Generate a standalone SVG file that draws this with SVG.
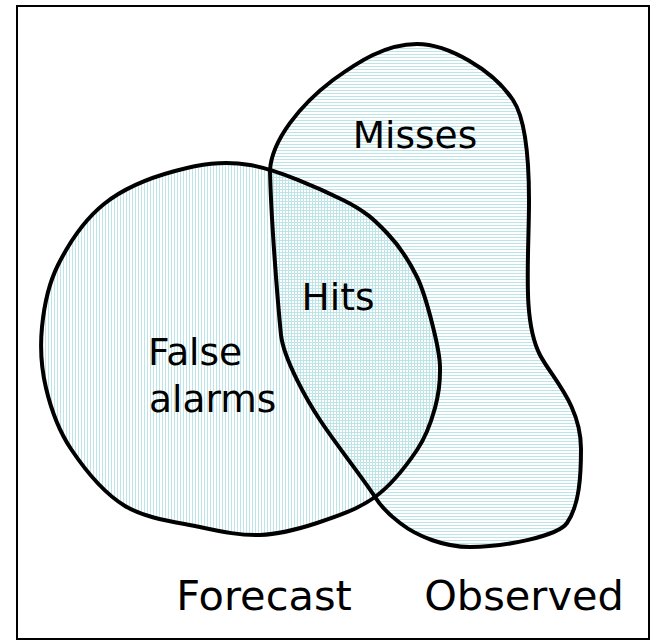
<svg xmlns="http://www.w3.org/2000/svg" width="654" height="640" viewBox="0 0 654 640">
  <style>
    .outline { fill: none; stroke: #000; stroke-width: 4; stroke-linejoin: round; }
    .lbl { font-family: "DejaVu Sans", Verdana, sans-serif; fill: #000; }
    .inner { font-size: 37.5px; }
    .outer { font-size: 41.5px; }
  </style>
  <defs>
    <pattern id="vlines" patternUnits="userSpaceOnUse" width="3" height="3">
      <rect x="0" y="0" width="1" height="3" fill="#bde4e6"/>
    </pattern>
    <pattern id="hlines" patternUnits="userSpaceOnUse" width="3" height="3">
      <rect x="0" y="0" width="3" height="1" fill="#bde4e6"/>
    </pattern>
    <path id="forecastShape" d="M 250,165 C 278,169.8 320.2,188.7 343,200 C 365.8,211.3 374.7,220.2 387,233 C 399.3,245.8 409.3,261.3 417,277 C 424.7,292.7 429.2,312 433,327 C 436.8,342 439.7,353.5 440,367 C 440.3,380.5 438.8,394.2 435,408 C 431.2,421.8 427,435.2 417,450 C 407,464.8 391.7,484.8 375,497 C 358.3,509.2 336.2,516.7 317,523 C 297.8,529.3 279.5,534.3 260,535 C 240.5,535.7 222.5,531.8 200,527 C 177.5,522.2 146.5,519 125,506 C 103.5,493 84.2,468.7 71,449 C 57.8,429.3 50.8,408.3 46,388 C 41.2,367.7 40,347.5 42,327 C 44,306.5 47.7,285.5 58,265 C 68.3,244.5 84.5,219.7 104,204 C 123.5,188.3 150.7,177.5 175,171 C 199.3,164.5 222,160.2 250,165 Z"/>
    <path id="observedShape" d="M 270,170 C 272,140 300,105 333,80 C 358,62 385,44 417,44 C 448,44 493,70 513,100 C 525,118 529,160 529,200 C 529,260 522,320 540,355 C 552,378 581,405 581,449 C 581,475 579.6,504.8 567,523 C 558,536 505,547 470,547 C 445,547 418,537 400,523 C 388,514 380,505 375,497 C 365,481 335,443 320,420 C 308,402 284,360 281,335 C 278,305 271,220 270,170 Z"/>
  </defs>

  <rect x="17" y="6" width="632" height="633" fill="#fff" stroke="#000" stroke-width="2"/>

  <g id="observed">
    <use href="#observedShape" fill="url(#hlines)"/>
  </g>
  <g id="forecast">
    <use href="#forecastShape" fill="url(#vlines)"/>
  </g>
  <g id="outlines">
    <use href="#observedShape" class="outline"/>
    <use href="#forecastShape" class="outline"/>
  </g>

  <g id="labels">
    <text class="lbl inner" x="415" y="148" text-anchor="middle">Misses</text>
    <text class="lbl inner" x="338" y="310" text-anchor="middle">Hits</text>
    <text class="lbl inner" x="148" y="365">False</text>
    <text class="lbl inner" x="149" y="411.5">alarms</text>
    <text class="lbl outer" x="264" y="610" text-anchor="middle">Forecast</text>
    <text class="lbl outer" x="524" y="610" text-anchor="middle">Observed</text>
  </g>
</svg>
